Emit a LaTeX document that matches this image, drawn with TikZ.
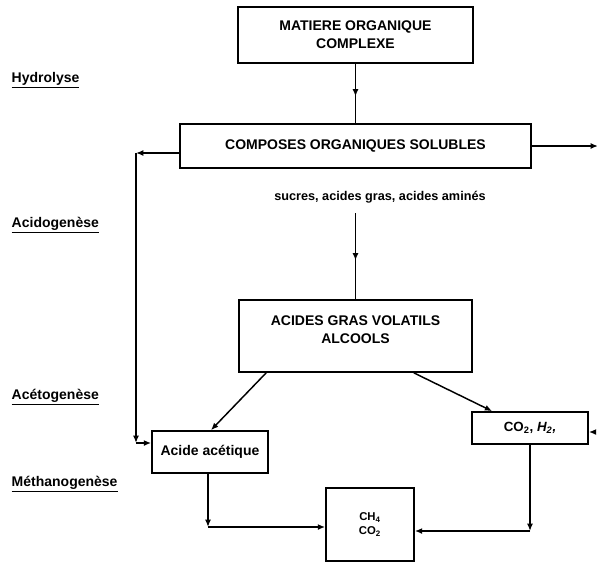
\documentclass[tikz,border=0pt]{standalone}
\usepackage{fontspec}
\setmainfont{Liberation Sans}
\usetikzlibrary{arrows.meta,positioning,calc,decorations.markings}

\begin{document}
\begin{tikzpicture}[x=0.75pt, y=-0.75pt, line width=1.1pt,
    font=\bfseries\fontsize{10.5}{13.5}\selectfont]
    \tikzset{boite/.style={draw, line width=1.3pt, align=center, inner sep=2pt},
             fleche/.style={-{Latex[length=5.5pt,width=4.5pt]}},
             milieu/.style={postaction={decorate}, decoration={markings,
               mark=at position 0.55 with {\arrow{Latex[length=5.5pt,width=4.5pt]}}}},
             etape/.style={anchor=west, inner sep=0pt}}
    \useasboundingbox (0,0) rectangle (597,562);
    % boites
    \node[boite, minimum width=176.25pt, minimum height=42pt] (matiere) at (355.5,35)
      {MATIERE ORGANIQUE\\COMPLEXE};
    \node[boite, minimum width=263.25pt, minimum height=33pt] (composes) at (355.5,146)
      {COMPOSES ORGANIQUES SOLUBLES};
    \node[font=\bfseries\fontsize{9.5}{11}\selectfont, inner sep=1pt] (sucres) at (380,197)
      {sucres, acides gras, acides aminés};
    \node[boite, minimum width=174.75pt, minimum height=54pt] (acides) at (355.5,336)
      {ACIDES GRAS VOLATILS\\ALCOOLS\\[-4pt]};
    \node[boite, minimum width=87pt, minimum height=31.5pt] (acetique) at (210,452)
      {Acide acétique};
    \node[boite, minimum width=87pt, minimum height=24pt,
          font=\bfseries\fontsize{10}{12}\selectfont] (co2h2) at (530,428)
      {CO\textsubscript{2}, \textit{H\textsubscript{2},}};
    \node[boite, minimum width=66pt, minimum height=54.75pt,
          font=\bfseries\fontsize{8.5}{10.5}\selectfont] (ch4) at (370,524.5)
      {CH\textsubscript{4}\\CO\textsubscript{2}};
    % etapes
    \node[etape] (hydro) at (11,80) {\underline{Hydrolyse}};
    \node[etape] (acido) at (11,225) {\underline{Acidogenèse}};
    \node[etape] (aceto) at (11,397) {\underline{Acétogenèse}};
    \node[etape] (metha) at (11,484) {\underline{Méthanogenèse}};
    % points de passage
    \coordinate (hautgauche) at (136,153);
    \coordinate (basgauche) at (136,443);
    \coordinate (droitehaut) at (598,146);
    \coordinate (droitebas) at (596,432);
    \coordinate (coingauche) at (208,527);
    \coordinate (coindroit) at (530,531);
    % fleches
    \draw[milieu] (matiere.south) -- (composes.north);
    \draw[fleche] (composes.west |- hautgauche) -- (hautgauche);
    \draw[fleche] (hautgauche) -- (basgauche);
    \draw[fleche] (basgauche) -- (acetique.west |- basgauche);
    \draw[fleche] (composes.east) -- (droitehaut);
    \draw[fleche] (droitebas) -- (co2h2.east |- droitebas);
    \draw[milieu] ([yshift=-6pt]acides.north |- sucres.south) -- (acides.north);
    \draw[fleche] ($(acides.south west)+(28,0)$) -- ($(acetique.north)+(1,0)$);
    \draw[fleche] ($(acides.south east)+(-59,0)$) -- ($(co2h2.north west)+(21,0)$);
    \draw[fleche] (acetique.south -| coingauche) -- (coingauche);
    \draw[fleche] (coingauche) -- (ch4.west |- coingauche);
    \draw[fleche] (co2h2.south) -- (coindroit);
    \draw[fleche] (coindroit) -- (ch4.east |- coindroit);
  \end{tikzpicture}
\end{document}
